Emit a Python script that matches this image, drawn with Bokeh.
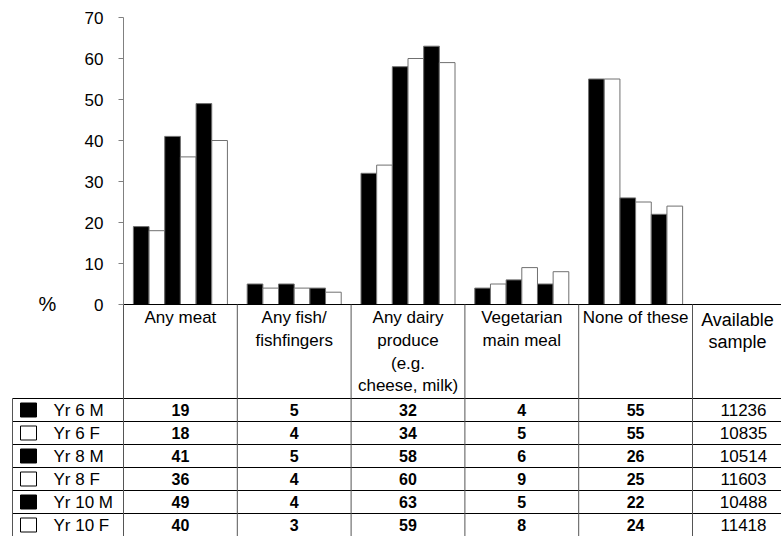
from bokeh.plotting import figure
from bokeh.models import LinearAxis, FixedTicker, Range1d
from bokeh.core.properties import value
from bokeh.embed import file_html
from bokeh.resources import INLINE

# ---------------- data ----------------
categories = [
    ["Any meat"],
    ["Any fish/", "fishfingers"],
    ["Any dairy", "produce", "(e.g.", "cheese, milk)"],
    ["Vegetarian", "main meal"],
    ["None of these"],
]
sample_header = ["Available", "sample"]
groups = ["Yr 6 M", "Yr 6 F", "Yr 8 M", "Yr 8 F", "Yr 10 M", "Yr 10 F"]
yr6_m = [19, 5, 32, 4, 55]
yr6_f = [18, 4, 34, 5, 55]
yr8_m = [41, 5, 58, 6, 26]
yr8_f = [36, 4, 60, 9, 25]
yr10_m = [49, 4, 63, 5, 22]
yr10_f = [40, 3, 59, 8, 24]
series = [yr6_m, yr6_f, yr8_m, yr8_f, yr10_m, yr10_f]
samples = [11236, 10835, 10514, 11603, 10488, 11418]
y_ticks = [0, 10, 20, 30, 40, 50, 60, 70]
y_label = "%"

# ---------------- layout helpers ----------------
W, H = 781, 536
PX_X = 113.8   # pixels per table column
PX_Y = 4.1     # pixels per percentage point
X0 = 123       # canvas x of column 0 (y axis)
Y0 = 304       # canvas y of value 0


def dx(px):
    return (px - X0) / PX_X


def dy(py):
    return (Y0 - py) / PX_Y


FONT = value("Liberation Sans")
BAR_W = 0.1377
HEADER_BOTTOM = 398
ROW_H = 23

p = figure(width=W, height=H,
           x_range=Range1d(dx(0), dx(W)), y_range=Range1d(dy(H), dy(0)),
           x_axis_type=None, y_axis_type=None,
           output_backend="svg", toolbar_location=None, min_border=0)
p.outline_line_color = None
p.background_fill_color = "white"
p.border_fill_color = "white"

# ---------------- bars ----------------
fills = ["black", "white"] * 3
for i, vals in enumerate(series):
    xs = [c + 0.5 + (i - 2.5) * BAR_W for c in range(len(vals))]
    p.vbar(x=xs, width=BAR_W, top=vals, bottom=0,
           fill_color=fills[i], line_color="#707070", line_width=1)

# ---------------- y axis ----------------
ax = LinearAxis(fixed_location=0, bounds=(0, 70),
                ticker=FixedTicker(ticks=y_ticks))
ax.axis_line_color = "#808080"
ax.major_tick_line_color = "#808080"
ax.major_tick_out = 5
ax.major_tick_in = 0
ax.minor_tick_line_color = None
ax.major_label_standoff = 15
ax.major_label_text_font = "Liberation Sans"
ax.major_label_text_font_size = "17px"
ax.major_label_text_color = "black"
p.add_layout(ax, "left")

p.text(x=[dx(47)], y=[dy(303)], text=[y_label], text_font=FONT,
       text_font_size="20px", text_align="center", text_baseline="middle",
       text_color="black")

# ---------------- table lines ----------------
n_rows = len(groups)
row_tops = [HEADER_BOTTOM + k * ROW_H for k in range(n_rows)]
# horizontal lines
p.segment(x0=[0], y0=[0], x1=[dx(W + 5)], y1=[0], line_color="black", line_width=1)
p.segment(x0=[dx(12)] * n_rows, y0=[dy(t) for t in row_tops],
          x1=[dx(W + 5)] * n_rows, y1=[dy(t) for t in row_tops],
          line_color="black", line_width=1)
# vertical lines
ncol = len(categories) + 1
p.segment(x0=list(range(ncol)), y0=[0] * ncol, x1=list(range(ncol)), y1=[dy(H + 5)] * ncol,
          line_color="#555555", line_width=1)
p.segment(x0=[dx(12)], y0=[dy(HEADER_BOTTOM)], x1=[dx(12)], y1=[dy(H + 5)],
          line_color="#555555", line_width=1)

# ---------------- header texts ----------------
hx, hy, ht = [], [], []
for c, lines in enumerate(categories):
    for k, line in enumerate(lines):
        hx.append(c + 0.5)
        hy.append(dy(317 + 22.8 * k))
        ht.append(line)
p.text(x=hx, y=hy, text=ht, text_font=FONT, text_font_size="17px",
       text_align="center", text_baseline="middle", text_color="black")
p.text(x=[dx(737)] * 2, y=[dy(319), dy(341)], text=sample_header, text_font=FONT,
       text_font_size="18px", text_align="center", text_baseline="middle",
       text_color="black")

# ---------------- table rows ----------------
row_c = [t + ROW_H / 2 for t in row_tops]
p.rect(x=[dx(28)] * n_rows, y=[dy(r) for r in row_c], width=16, height=14,
       width_units="screen", height_units="screen",
       fill_color=fills, line_color="black", line_width=1)
p.text(x=[dx(53)] * n_rows, y=[dy(r) for r in row_c], text=groups, text_font=FONT,
       text_font_size="17px", text_align="left", text_baseline="middle",
       text_color="black")

nx, ny, nt = [], [], []
for i, vals in enumerate(series):
    for c, v in enumerate(vals):
        nx.append(c + 0.5)
        ny.append(dy(row_c[i]))
        nt.append(str(v))
p.text(x=nx, y=ny, text=nt, text_font=FONT, text_font_size="16px",
       text_font_style="bold", text_align="center", text_baseline="middle",
       text_color="black")
p.text(x=[dx(743)] * n_rows, y=[dy(r) for r in row_c], text=[str(s) for s in samples],
       text_font=FONT, text_font_size="17px", text_align="center",
       text_baseline="middle", text_color="black")

open("out.html", "w").write(file_html(p, INLINE))
